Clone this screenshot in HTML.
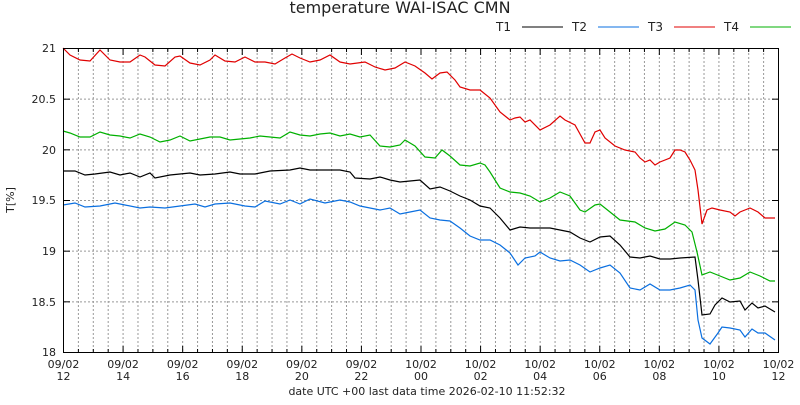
<!DOCTYPE html>
<html><head><style>body{margin:0;background:#fff}svg text{font-family:"DejaVu Sans","Liberation Sans",sans-serif;fill:#222}</style></head><body>
<svg width="800" height="400" xmlns="http://www.w3.org/2000/svg">
<rect width="800" height="400" fill="#fff"/>
<text x="400" y="13" font-size="16" text-anchor="middle">temperature WAI-ISAC CMN</text>
<g font-size="12">
<text x="496" y="31">T1</text><line x1="522" y1="27" x2="563" y2="27" stroke="#000"/>
<text x="572" y="31">T2</text><line x1="598" y1="27" x2="639" y2="27" stroke="#0a6fe0"/>
<text x="648" y="31">T3</text><line x1="674" y1="27" x2="715" y2="27" stroke="#e00000"/>
<text x="724" y="31">T4</text><line x1="750" y1="27" x2="791" y2="27" stroke="#00b000"/>
</g>
<g id="grid"></g>
<g fill="none" stroke-width="1.2">
<polyline stroke="#e00000" points="63,48 70,55 80,60 90,61 100,50 110,60 120,62 130,62 140,55 145,57 155,65 165,66 175,57 180,56 190,63 200,65 210,60 215,55 225,61 235,62 245,57 255,62 265,62 275,64 285,58 292,54 300,58 310,62 320,60 330,55 340,62 350,64 365,62 375,67 385,70 395,68 405,62 415,66 425,73 432,79 440,73 447,72 455,80 460,87 470,90 480,90 490,98 500,112 510,120 515,118 520,117 525,122 530,120 540,130 550,125 560,116 565,120 575,125 585,143 590,143 595,132 600,130 605,138 615,146 625,150 635,152 640,158 645,162 650,160 655,165 660,162 670,158 675,150 680,150 685,152 690,160 695,170 698,190 702,224 707,210 712,208 720,210 730,212 735,216 740,212 750,208 758,212 765,218 775,218"/>
<polyline stroke="#00b000" points="63,131 70,133 80,137 90,137 100,132 110,135 120,136 130,138 140,134 150,137 160,142 170,140 180,136 190,141 200,139 210,137 220,137 230,140 240,139 250,138 260,136 270,137 280,138 290,132 300,135 310,136 320,134 330,133 340,136 350,134 360,137 370,135 380,146 390,147 400,145 405,140 415,146 425,157 435,158 442,150 450,156 460,165 470,166 480,163 485,165 490,172 500,188 510,192 520,193 530,196 540,202 550,198 560,192 570,196 580,210 585,212 595,205 600,204 610,212 620,220 635,222 645,228 655,231 665,229 675,222 685,225 692,232 697,252 702,275 710,272 720,276 730,280 740,278 750,272 760,276 770,281 775,281"/>
<polyline stroke="#000" points="63,171 75,171 85,175 95,174 110,172 120,175 130,173 140,177 150,173 155,178 170,175 190,173 200,175 215,174 230,172 240,174 255,174 270,171 290,170 300,168 310,170 325,170 340,170 350,172 355,178 370,179 380,177 390,180 400,182 410,181 420,180 430,189 440,187 450,191 460,196 470,200 480,206 490,208 500,218 510,230 520,227 530,228 540,228 550,228 560,230 570,232 580,238 590,242 600,237 610,236 620,245 630,257 640,258 650,256 660,259 670,259 680,258 695,257 698,280 702,315 710,314 715,305 722,298 730,302 740,301 745,310 752,303 758,308 765,306 775,312"/>
<polyline stroke="#0a6fe0" points="63,205 75,203 85,207 100,206 115,203 125,205 140,208 150,207 165,208 180,206 195,204 205,207 215,204 230,203 245,206 255,207 265,201 280,204 290,200 300,204 310,199 325,203 340,200 350,202 360,206 370,208 380,210 390,208 400,214 410,212 420,210 430,218 440,220 450,221 460,228 470,236 480,240 490,240 500,245 510,253 518,265 525,258 535,256 540,252 550,258 560,261 570,260 580,265 590,272 600,268 610,265 620,273 630,288 640,290 650,284 660,290 670,290 680,288 690,285 695,290 698,320 702,338 710,344 718,333 722,327 730,328 740,330 745,337 752,329 758,333 765,333 775,340"/>
</g>
<rect x="63.5" y="48.5" width="715" height="304" fill="none" stroke="#000"/>
<g font-size="11" text-anchor="end">
<text x="56" y="52">21</text><text x="56" y="103">20.5</text><text x="56" y="154">20</text><text x="56" y="204">19.5</text><text x="56" y="255">19</text><text x="56" y="306">18.5</text><text x="56" y="356">18</text>
</g>
<text transform="translate(14,200) rotate(-90)" font-size="11" text-anchor="middle">T[%]</text>
<g font-size="11" text-anchor="middle" id="xl"></g>
<text x="427" y="395" font-size="11" text-anchor="middle">date UTC +00 last data time 2026-02-10 11:52:32</text>
<script>
var ns="http://www.w3.org/2000/svg",g=document.getElementById("grid"),xl=document.getElementById("xl");
function L(a,b,c,d,s,da){var l=document.createElementNS(ns,"line");l.setAttribute("x1",a);l.setAttribute("y1",b);l.setAttribute("x2",c);l.setAttribute("y2",d);l.setAttribute("stroke",s);if(da)l.setAttribute("stroke-dasharray",da);g.appendChild(l);}
for(var i=1;i<48;i++){var x=63.5+i*715/48;L(x,49,x,352,"#999","2,2");}
for(var j=1;j<6;j++){var y=48.5+j*304/6;L(64,y,778,y,"#999","2,2");L(64,y,70,y,"#000");L(778,y,772,y,"#000");}
for(var i=0;i<=48;i++){var x=63.5+i*715/48,h=i%4==0?6:3;L(x,352,x,352-h,"#000");L(x,49,x,49+h,"#000");}
var lb=[["09/02","12"],["09/02","14"],["09/02","16"],["09/02","18"],["09/02","20"],["09/02","22"],["10/02","00"],["10/02","02"],["10/02","04"],["10/02","06"],["10/02","08"],["10/02","10"],["10/02","12"]];
lb.forEach(function(p,i){var x=63.5+i*715/12;[p[0],p[1]].forEach(function(s,k){var t=document.createElementNS(ns,"text");t.setAttribute("x",x);t.setAttribute("y",368+k*12);t.textContent=s;xl.appendChild(t);});});
</script>
</svg>
</body></html>
